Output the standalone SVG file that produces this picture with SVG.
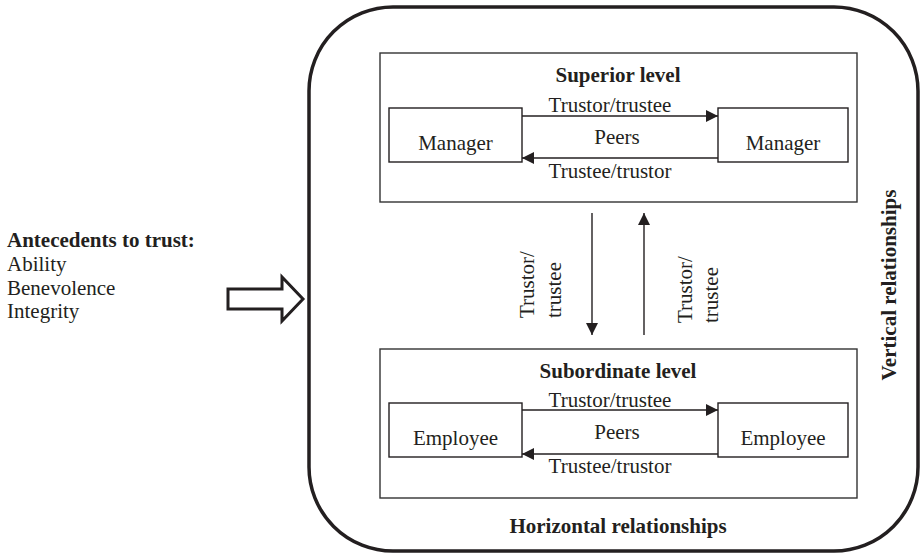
<svg xmlns="http://www.w3.org/2000/svg" width="923" height="555" viewBox="0 0 923 555">
<style>
text{font-family:"Liberation Serif","Times New Roman",serif;font-size:21px;fill:#231f20}
.b{font-weight:bold}
.m{text-anchor:middle}
.box{fill:#fff;stroke:#231f20;stroke-width:1.4}
.lvl{fill:none;stroke:#333;stroke-width:1.4}
.con{stroke:#231f20;stroke-width:1.4;fill:none;marker-end:url(#ah)}
</style>
<defs>
<marker id="ah" markerUnits="userSpaceOnUse" markerWidth="13" markerHeight="13" refX="12" refY="6" orient="auto">
<path d="M0,0 L12,6 L0,12 z" fill="#231f20"/>
</marker>
</defs>
<rect width="923" height="555" fill="#fff"/>
<g id="antecedents">
<text x="7" y="247" class="b">Antecedents to trust:</text>
<text x="7" y="271">Ability</text>
<text x="7" y="295">Benevolence</text>
<text x="7" y="318">Integrity</text>
</g>
<g id="input-arrow">
<polygon points="228,289 282,289 282,277 303,299 282,321 282,309 228,309" fill="#fff" stroke="#231f20" stroke-width="3"/>
</g>
<g id="outer">
<rect x="309" y="7" width="609" height="544" rx="84" ry="84" fill="none" stroke="#231f20" stroke-width="3.5"/>
<text x="618" y="533" class="b m">Horizontal relationships</text>
<text transform="translate(896,285) rotate(-90)" class="b m">Vertical relationships</text>
</g>
<g id="superior">
<rect x="380" y="53" width="477" height="149" class="lvl"/>
<text x="618" y="82" class="b m">Superior level</text>
</g>
<g id="manager-left">
<rect x="389" y="108" width="133" height="54" class="box"/>
<text x="455.5" y="150" class="m">Manager</text>
</g>
<g id="manager-right">
<rect x="718" y="108" width="130" height="54" class="box"/>
<text x="783" y="150" class="m">Manager</text>
</g>
<g id="subordinate">
<rect x="380" y="349" width="477" height="149" class="lvl"/>
<text x="618" y="378" class="b m">Subordinate level</text>
</g>
<g id="employee-left">
<rect x="389" y="403" width="133" height="54" class="box"/>
<text x="455.5" y="445" class="m">Employee</text>
</g>
<g id="employee-right">
<rect x="718" y="403" width="130" height="54" class="box"/>
<text x="783" y="445" class="m">Employee</text>
</g>
<g id="connectors">
<line x1="522" y1="116" x2="718" y2="116" class="con"/>
<line x1="718" y1="158" x2="522" y2="158" class="con"/>
<line x1="522" y1="410" x2="718" y2="410" class="con"/>
<line x1="718" y1="454" x2="522" y2="454" class="con"/>
<line x1="592" y1="213" x2="592" y2="335" class="con"/>
<line x1="644" y1="335" x2="644" y2="213" class="con"/>
<text x="610" y="112" class="m">Trustor/trustee</text>
<text x="617" y="144" class="m">Peers</text>
<text x="610" y="178" class="m">Trustee/trustor</text>
<text x="610" y="407" class="m">Trustor/trustee</text>
<text x="617" y="439" class="m">Peers</text>
<text x="610" y="473" class="m">Trustee/trustor</text>
<text transform="translate(534,318) rotate(-90)">Trustor/</text>
<text transform="translate(561,318) rotate(-90)">trustee</text>
<text transform="translate(692,323) rotate(-90)">Trustor/</text>
<text transform="translate(718,323) rotate(-90)">trustee</text>
</g>
</svg>
